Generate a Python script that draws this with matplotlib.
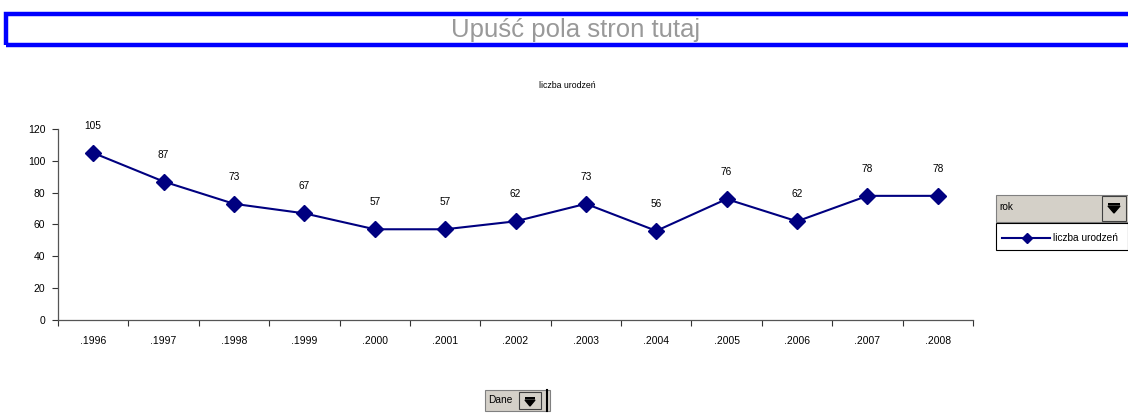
import matplotlib
matplotlib.use("Agg")
import matplotlib.pyplot as plt
from matplotlib.patches import Rectangle, Polygon

plt.rcParams['font.family'] = ['Liberation Sans', 'DejaVu Sans']

years = ['.1996', '.1997', '.1998', '.1999', '.2000', '.2001', '.2002',
         '.2003', '.2004', '.2005', '.2006', '.2007', '.2008']
births = [105, 87, 73, 67, 57, 57, 62, 73, 56, 76, 62, 78, 78]
series_name = 'liczba urodzeń'
yticks = [0, 20, 40, 60, 80, 100, 120]

W, H = 1128, 413
fig = plt.figure(figsize=(W / 100, H / 100), dpi=100)

def fx(px):
    return px / W

def fy(py):
    return 1 - py / H

# header drop zone
fig.patches.append(Rectangle((fx(5.5), fy(45)), fx(1135) - fx(5.5), fy(14) - fy(45),
                             transform=fig.transFigure, fill=False,
                             edgecolor='#0000FF', linewidth=3.2))
fig.text(fx(576), fy(37), 'Upuść pola stron tutaj', ha='center', va='baseline',
         fontsize=18.5, color='#999999')

# chart title
fig.text(fx(567), fy(85), series_name, ha='center', va='center', fontsize=6.3,
         color='black')

ax = fig.add_axes([fx(58), fy(320), fx(973) - fx(58), fy(129) - fy(320)])
x = list(range(len(years)))
ax.plot(x, births, color='#000080', linewidth=1.5, marker='D', markersize=8,
        markerfacecolor='#000080', markeredgecolor='#000080')
for xi, v in zip(x, births):
    ax.annotate(str(v), (xi, v), xytext=(0, 27), textcoords='offset pixels',
                ha='center', va='center', fontsize=7.3)

ax.set_xlim(-0.5, len(years) - 0.5)
ax.set_ylim(0, 120)
ax.set_yticks(yticks)
ax.set_yticklabels([str(t) for t in yticks], fontsize=7.5)
ax.set_xticks([i - 0.5 for i in range(len(years) + 1)])
ax.set_xticklabels([])
ax.set_xticks(x, minor=True)
ax.set_xticklabels(years, minor=True, fontsize=7.5)
ax.tick_params(axis='x', which='minor', length=0, pad=11.5)
ax.tick_params(axis='x', which='major', length=4, direction='out', color='#333333', width=0.8)
ax.tick_params(axis='y', length=4, direction='out', width=0.8, pad=5, color='#333333')
for s in ['top', 'right']:
    ax.spines[s].set_visible(False)
for s in ['left', 'bottom']:
    ax.spines[s].set_linewidth(0.9)
    ax.spines[s].set_color('#555555')

# "rok" dropdown
gray = '#D4D0C8'
fig.patches.append(Rectangle((fx(996), fy(222)), fx(1128) - fx(996), fy(195) - fy(222),
                             transform=fig.transFigure, facecolor=gray,
                             edgecolor='#808080', linewidth=0.8))
fig.text(fx(999), fy(207), 'rok', ha='left', va='center', fontsize=7.3)
fig.patches.append(Rectangle((fx(1102), fy(221)), fx(1126) - fx(1102), fy(196) - fy(221),
                             transform=fig.transFigure, facecolor=gray,
                             edgecolor='#404040', linewidth=0.8))
fig.patches.append(Polygon([(fx(1108), fy(206)), (fx(1120), fy(206)), (fx(1114), fy(213))],
                           closed=True, transform=fig.transFigure, facecolor='black',
                           edgecolor='black'))
fig.patches.append(Rectangle((fx(1108), fy(205)), fx(12), fy(203) - fy(205),
                             transform=fig.transFigure, facecolor='black', edgecolor='none'))
# legend box
fig.patches.append(Rectangle((fx(996), fy(250)), fx(1128) - fx(996), fy(223) - fy(250),
                             transform=fig.transFigure, facecolor='white',
                             edgecolor='black', linewidth=0.8))
fig.lines.append(plt.Line2D([fx(1002), fx(1050)], [fy(238), fy(238)],
                            transform=fig.transFigure, color='#000080', linewidth=1.5,
                            marker='None'))
fig.lines.append(plt.Line2D([fx(1027)], [fy(238)], transform=fig.transFigure,
                            color='#000080', marker='D', markersize=5))
fig.text(fx(1053), fy(238), series_name, ha='left', va='center', fontsize=7.3)

# "Dane" button
fig.patches.append(Rectangle((fx(485), fy(411)), fx(550) - fx(485), fy(390) - fy(411),
                             transform=fig.transFigure, facecolor=gray,
                             edgecolor='#808080', linewidth=0.8))
fig.text(fx(488), fy(400), 'Dane', ha='left', va='center', fontsize=7.3)
fig.patches.append(Rectangle((fx(519), fy(409)), fx(541) - fx(519), fy(392) - fy(409),
                             transform=fig.transFigure, facecolor=gray,
                             edgecolor='#404040', linewidth=0.8))
fig.patches.append(Polygon([(fx(525), fy(400)), (fx(535), fy(400)), (fx(530), fy(406))],
                           closed=True, transform=fig.transFigure, facecolor='black',
                           edgecolor='black'))
fig.patches.append(Rectangle((fx(525), fy(399)), fx(10), fy(397) - fy(399),
                             transform=fig.transFigure, facecolor='black', edgecolor='none'))
fig.lines.append(plt.Line2D([fx(547), fx(547)], [fy(390), fy(411)],
                            transform=fig.transFigure, color='black', linewidth=1.5))

fig.savefig('out.png', dpi=100)
